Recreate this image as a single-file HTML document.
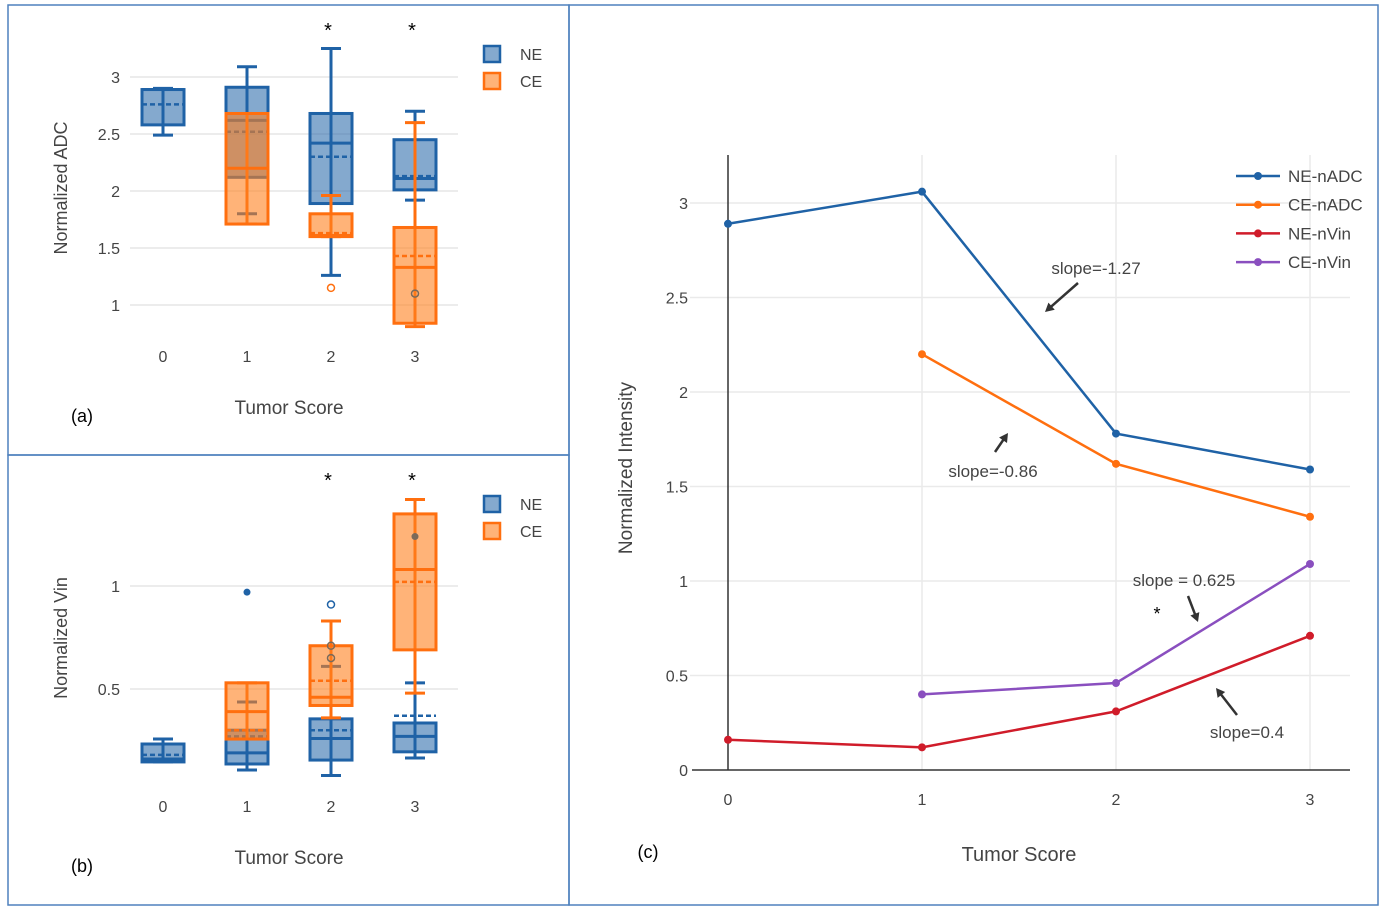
<!DOCTYPE html>
<html><head><meta charset="utf-8"><style>
body{margin:0;background:#fff;}
svg{display:block;font-family:"Liberation Sans",sans-serif;}
</style></head><body>
<svg id="fig" width="1385" height="916" viewBox="0 0 1385 916">
<rect x="0" y="0" width="1385" height="916" fill="#fff"/>
<rect x="8" y="5" width="561" height="450" fill="none" stroke="#4f81bd" stroke-width="1.5"/>
<rect x="8" y="455" width="561" height="450" fill="none" stroke="#4f81bd" stroke-width="1.5"/>
<rect x="569" y="5" width="809" height="900" fill="none" stroke="#4f81bd" stroke-width="1.5"/>
<g id="ga"></g>
<g id="gb"></g>
<g id="gc"></g>
</svg>
<script>
// ---- Panel (a) data: normalized ADC box stats [wlo,q1,median,q3,whi,mean]
const scoresA = [0,1,2,3];
const adcNE = [[2.49,2.58,2.89,2.89,2.90,2.76],[1.80,2.12,2.62,2.91,3.09,2.52],[1.26,1.89,2.42,2.68,3.25,2.30],[1.92,2.01,2.11,2.45,2.70,2.13]];
const adcCE = [null,[1.71,1.71,2.20,2.68,2.68,2.20],[1.60,1.60,1.61,1.80,1.96,1.63],[0.81,0.84,1.33,1.68,2.60,1.43]];
const adcOutNE = [[3,1.10]];
const adcOutCE = [[2,1.15]];
const adcTicks = [1,1.5,2,2.5,3];
const adcTickLabels = ["1","1.5","2","2.5","3"];
// ---- Panel (b) data: normalized Vin
const vinNE = [[0.146,0.146,0.16,0.233,0.257,0.18],[0.107,0.136,0.19,0.30,0.437,0.27],[0.08,0.155,0.26,0.355,0.61,0.30],[0.165,0.195,0.27,0.335,0.53,0.37]];
const vinCE = [null,[0.257,0.257,0.39,0.53,0.53,0.30],[0.36,0.42,0.46,0.71,0.83,0.54],[0.48,0.69,1.08,1.35,1.42,1.02]];
const vinOutNEFilled = [[1,0.97],[3,1.24]];
const vinOutNEHollow = [[2,0.91],[2,0.71],[2,0.65]];
const vinTicks = [0.5,1];
const vinTickLabels = ["0.5","1"];
// ---- Panel (c) data
const cScores = [0,1,2,3];
const neADC = [2.89,3.06,1.78,1.59];
const ceADC = [null,2.20,1.62,1.34];
const neVin = [0.16,0.12,0.31,0.71];
const ceVin = [null,0.40,0.46,1.09];
const cTicks = [0,0.5,1,1.5,2,2.5,3];
const cTickLabels = ["0","0.5","1","1.5","2","2.5","3"];

const NS="http://www.w3.org/2000/svg";
function mk(parent,tag,attrs,text){const e=document.createElementNS(NS,tag);for(const k in attrs)e.setAttribute(k,attrs[k]);if(text!==undefined)e.textContent=text;parent.appendChild(e);return e;}
const BLUE="#1f62a6",ORANGE="#ff6f0f",BF="rgba(31,98,166,0.55)",OF="rgba(255,128,30,0.6)";
const bx=s=>163+s*84;

function boxPanel(g,data1,data2,y,ticks,labels,yTitle,tag,yOff){
  ticks.forEach((t,i)=>{
    const l=mk(g,'line',{x1:130,x2:458,y1:y(t),y2:y(t),stroke:'#e6e6e6','stroke-width':1.5});
    
    
    const tx=mk(g,'text',{x:120,y:y(t)+6,'text-anchor':'end','font-size':16,fill:'#444'},labels[i]);
    
    
  });
  scoresA.forEach(s=>{
    const tx=mk(g,'text',{x:bx(s),y:yOff+362,'text-anchor':'middle','font-size':16,fill:'#444'},String(s));
    
    
  });
  [[data1,BLUE,BF,'ne'],[data2,ORANGE,OF,'ce']].forEach(([data,c,f,n])=>{
    data.forEach((d,s)=>{
      if(!d)return;
      const x=bx(s),w=21;
      const grp=mk(g,'g',{});
      
      
      mk(grp,'line',{x1:x,x2:x,y1:y(d[0]),y2:y(d[4]),stroke:c,'stroke-width':3});
      mk(grp,'line',{x1:x-10,x2:x+10,y1:y(d[0]),y2:y(d[0]),stroke:c,'stroke-width':3});
      mk(grp,'line',{x1:x-10,x2:x+10,y1:y(d[4]),y2:y(d[4]),stroke:c,'stroke-width':3});
      mk(grp,'rect',{x:x-w,y:y(d[3]),width:2*w,height:y(d[1])-y(d[3]),fill:f,stroke:c,'stroke-width':3});
      mk(grp,'line',{x1:x-w,x2:x+w,y1:y(d[2]),y2:y(d[2]),stroke:c,'stroke-width':3});
      mk(grp,'line',{x1:x-w,x2:x+w,y1:y(d[5]),y2:y(d[5]),stroke:c,'stroke-width':2.5,'stroke-dasharray':'5,3'});
    });
  });
  const t=mk(g,'text',{x:0,y:0,transform:`translate(67,${yOff+188}) rotate(-90)`,'text-anchor':'middle','font-size':18,fill:'#444'},yTitle);
  
  const xt=mk(g,'text',{x:289,y:yOff+414,'text-anchor':'middle','font-size':19,fill:'#444'},'Tumor Score');
  
  const pl=mk(g,'text',{x:82,y:yOff+422,'text-anchor':'middle','font-size':18,fill:'#000'},tag);
  
  [2,3].forEach(s=>{const st=mk(g,'text',{x:bx(s)-3,y:yOff+37,'text-anchor':'middle','font-size':20,fill:'#000'},'*');
    });
  [['NE',BLUE,BF,45],['CE',ORANGE,OF,72]].forEach(([n,c,f,yy])=>{
    const lg=mk(g,'g',{});
    
    
    mk(lg,'rect',{x:484,y:yOff+yy+1,width:16,height:16,fill:f,stroke:c,'stroke-width':2.5});
    mk(lg,'text',{x:520,y:yOff+yy+15,'font-size':16,fill:'#444'},n);
  });
}
const ga=document.getElementById('ga'),gb=document.getElementById('gb');
const yA=v=>305-(v-1)*114;
boxPanel(ga,adcNE,adcCE,yA,adcTicks,adcTickLabels,'Normalized ADC','(a)',0);
adcOutNE.forEach(p=>{const c=mk(ga,'circle',{cx:bx(p[0]),cy:yA(p[1]),r:3.5,fill:'none',stroke:'#7a6a5a','stroke-width':1.5});
  });
adcOutCE.forEach(p=>{const c=mk(ga,'circle',{cx:bx(p[0]),cy:yA(p[1]),r:3.5,fill:'none',stroke:ORANGE,'stroke-width':1.5});
  });
const yB=v=>586-(v-1)*206;
boxPanel(gb,vinNE,vinCE,yB,vinTicks,vinTickLabels,'Normalized Vin','(b)',450);
vinOutNEFilled.forEach(p=>{const c=mk(gb,'circle',{cx:bx(p[0]),cy:yB(p[1]),r:3.5,fill:p[1]>1.1?'#7a6a5a':BLUE});
  });
vinOutNEHollow.forEach(p=>{const c=mk(gb,'circle',{cx:bx(p[0]),cy:yB(p[1]),r:3.5,fill:'none',stroke:p[1]>0.8?BLUE:'#7a6a5a','stroke-width':1.5});
  });

// ---- Panel (c)
const gc=document.getElementById('gc');
const cx=s=>728+s*194, cy=v=>770-v*189;
cTicks.forEach((t,i)=>{
  if(t>0){const l=mk(gc,'line',{x1:690,x2:1350,y1:cy(t),y2:cy(t),stroke:'#eaeaea','stroke-width':1.5});
  }
  const tx=mk(gc,'text',{x:688,y:cy(t)+6,'text-anchor':'end','font-size':16,fill:'#444'},cTickLabels[i]);
  
});
cScores.forEach(s=>{
  if(s>0){const l=mk(gc,'line',{x1:cx(s),x2:cx(s),y1:155,y2:770,stroke:'#eaeaea','stroke-width':1.5});
  }
  const tx=mk(gc,'text',{x:cx(s),y:805,'text-anchor':'middle','font-size':16,fill:'#444'},String(s));
  
});
const ax1=mk(gc,'line',{x1:728,x2:728,y1:155,y2:770,stroke:'#333','stroke-width':1.5});

const ax2=mk(gc,'line',{x1:692,x2:1350,y1:770,y2:770,stroke:'#333','stroke-width':1.5});

const series=[['NE-nADC',neADC,'#1f62a6'],['CE-nADC',ceADC,'#ff6f0f'],['NE-nVin',neVin,'#d01c2a'],['CE-nVin',ceVin,'#8a4fbf']];
series.forEach(([n,vals,c],k)=>{
  const pts=[];vals.forEach((v,s)=>{if(v!==null)pts.push([cx(cScores[s]),cy(v)]);});
  const pl=mk(gc,'polyline',{points:pts.map(p=>p.join(',')).join(' '),fill:'none',stroke:c,'stroke-width':2.5});
  
  pts.forEach(p=>{const d=mk(gc,'circle',{cx:p[0],cy:p[1],r:4,fill:c});
    });
  const yy=176+k*28.7;
  const lg=mk(gc,'g',{});
  
  
  mk(lg,'line',{x1:1236,x2:1280,y1:yy,y2:yy,stroke:c,'stroke-width':2.5});
  mk(lg,'circle',{cx:1258,cy:yy,r:4,fill:c});
  mk(lg,'text',{x:1288,y:yy+6,'font-size':17,fill:'#444'},n);
});
const yt=mk(gc,'text',{x:0,y:0,transform:'translate(632,468) rotate(-90)','text-anchor':'middle','font-size':19,fill:'#444'},'Normalized Intensity');

const xt=mk(gc,'text',{x:1019,y:861,'text-anchor':'middle','font-size':20,fill:'#444'},'Tumor Score');

const pc=mk(gc,'text',{x:648,y:858,'text-anchor':'middle','font-size':18,fill:'#000'},'(c)');

const anns=[['slope=-1.27',1096,274,1078,283,1045,312],['slope=-0.86',993,477,995,452,1008,433],['slope = 0.625',1184,586,1188,596,1198,622],['slope=0.4',1247,738,1237,715,1216,688]];
anns.forEach(a=>{
  const t=mk(gc,'text',{x:a[1],y:a[2],'text-anchor':'middle','font-size':17,fill:'#444'},a[0]);
  
  const ang=Math.atan2(a[6]-a[4],a[5]-a[3]);
  const l=mk(gc,'line',{x1:a[3],y1:a[4],x2:a[5]-6*Math.cos(ang),y2:a[6]-6*Math.sin(ang),stroke:'#333','stroke-width':2.5});
  
  const h=10,p1=[a[5]-h*Math.cos(ang-0.5),a[6]-h*Math.sin(ang-0.5)],p2=[a[5]-h*Math.cos(ang+0.5),a[6]-h*Math.sin(ang+0.5)];
  const hd=mk(gc,'polygon',{points:`${a[5]},${a[6]} ${p1} ${p2}`,fill:'#333'});
  
});
const st=mk(gc,'text',{x:1157,y:620,'text-anchor':'middle','font-size':18,fill:'#000'},'*');

</script>
</body></html>
